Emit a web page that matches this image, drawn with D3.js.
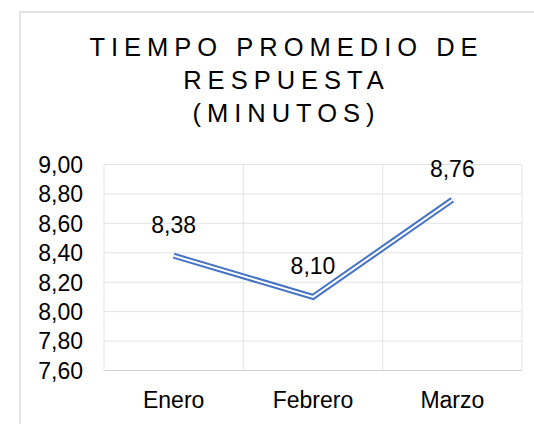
<!DOCTYPE html>
<html>
<head>
<meta charset="utf-8">
<script src="https://cdn.jsdelivr.net/npm/d3@7"></script>
<style>
  html, body { margin: 0; padding: 0; background: #fff; }
  svg { display: block; font-family: "Liberation Sans", Arial, sans-serif; }
</style>
</head>
<body>
<div id="chart"></div>
<script>
var categories = ["Enero", "Febrero", "Marzo"];
var values = [8.38, 8.10, 8.76];
var yTicks = [7.6, 7.8, 8.0, 8.2, 8.4, 8.6, 8.8, 9.0];
var titleLines = ["TIEMPO PROMEDIO DE", "RESPUESTA", "(MINUTOS)"];

function drawChart(selector) {
    var svgWidth = 534,
        svgHeight = 424,
        plot = {left: 104, right: 522, top: 164.5, bottom: 370.5},
        x = d3.scaleBand(categories, [plot.left, plot.right]).padding(0),
        y = d3.scaleLinear([7.6, 9.0], [plot.bottom, plot.top]);

    var es = d3.formatLocale({decimal: ",", thousands: ".", grouping: [3], currency: ["", "€"]});
    var fmt = es.format(".2f");
    var labelSize = "23px";

    var svg = d3.select(selector).append("svg")
        .attr("width", svgWidth)
        .attr("height", svgHeight);

    // chart frame (right and bottom edges fall outside the picture)
    svg.append("rect")
        .attr("x", 20).attr("y", 12)
        .attr("width", 600).attr("height", 600)
        .attr("fill", "#fff")
        .attr("stroke", "#d9d9d9")
        .attr("stroke-width", 1.5);

    // title
    svg.append("g")
        .selectAll("text")
        .data(titleLines)
        .join("text")
          .attr("x", 286.5)
          .attr("y", function(d, i) { return 56 + i * 33; })
          .attr("text-anchor", "middle")
          .style("font-size", "25.5px")
          .style("letter-spacing", "6px")
          .attr("fill", "#000")
          .text(function(d) { return d; });

    // horizontal gridlines
    svg.append("g")
        .selectAll("line")
        .data(yTicks)
        .join("line")
          .attr("x1", plot.left).attr("x2", plot.right)
          .attr("y1", function(d) { return y(d); })
          .attr("y2", function(d) { return y(d); })
          .attr("stroke", function(d, i) { return i == 0 ? "#d0d0d0" : "#e3e3e3"; })
          .attr("stroke-width", 1);

    // vertical category separators
    var edges = categories.map(function(c) { return x(c); }).concat([plot.right]);
    svg.append("g")
        .selectAll("line")
        .data(edges)
        .join("line")
          .attr("x1", function(d) { return d; })
          .attr("x2", function(d) { return d; })
          .attr("y1", plot.top).attr("y2", plot.bottom)
          .attr("stroke", "#e3e3e3")
          .attr("stroke-width", 1);

    // y axis labels
    var yAxis = svg.append("g")
        .attr("transform", "translate(" + 83 + ",0)")
        .call(d3.axisLeft(y).tickValues(yTicks).tickFormat(fmt).tickSize(0).tickPadding(0));
    yAxis.select(".domain").remove();
    yAxis.selectAll("text")
        .attr("fill", "#000")
        .attr("dy", "0.34em")
        .style("font-size", labelSize)
        .style("font-family", "\"Liberation Sans\", Arial, sans-serif");

    // x axis labels
    var xAxis = svg.append("g")
        .attr("transform", "translate(0," + plot.bottom + ")")
        .call(d3.axisBottom(x).tickSize(0).tickPadding(0));
    xAxis.select(".domain").remove();
    xAxis.selectAll("text")
        .attr("fill", "#000")
        .attr("y", 37.8)
        .attr("dy", 0)
        .style("font-size", labelSize)
        .style("font-family", "\"Liberation Sans\", Arial, sans-serif");

    var points = d3.zip(categories, values);
    var line = d3.line()
        .x(function(d) { return x(d[0]) + x.bandwidth() / 2; })
        .y(function(d) { return y(d[1]); });

    // compound (double) line: thick blue with a white core
    svg.append("path")
        .datum(points)
        .attr("d", line)
        .attr("fill", "none")
        .attr("stroke", "#4472c4")
        .attr("stroke-width", 6)
        .attr("stroke-linejoin", "miter")
        .attr("stroke-linecap", "butt");
    svg.append("path")
        .datum(points)
        .attr("d", line)
        .attr("fill", "none")
        .attr("stroke", "#fff")
        .attr("stroke-width", 2)
        .attr("stroke-linejoin", "miter")
        .attr("stroke-linecap", "butt");

    // data labels
    svg.append("g")
        .selectAll("text")
        .data(points)
        .join("text")
          .attr("x", function(d) { return x(d[0]) + x.bandwidth() / 2; })
          .attr("y", function(d) { return y(d[1]) - 22.5; })
          .attr("text-anchor", "middle")
          .style("font-size", labelSize)
          .attr("fill", "#000")
          .text(function(d) { return fmt(d[1]); });
}

drawChart("#chart");
</script>
</body>
</html>
